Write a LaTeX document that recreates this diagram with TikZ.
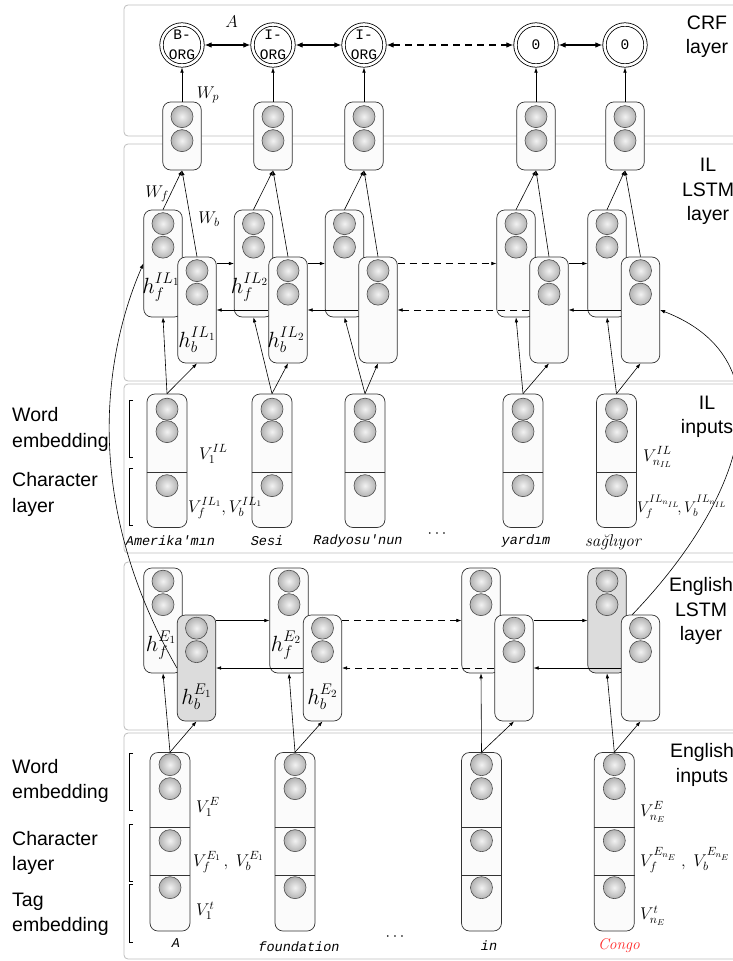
\RequirePackage{fix-cm}
\documentclass[tikz,border=0pt]{standalone}
\usepackage{fontspec}
\setsansfont{Liberation Sans}
\newfontfamily\monofam{Liberation Mono}
\usetikzlibrary{arrows.meta,calc,positioning}
\definecolor{rim}{HTML}{BEBEBE}
\definecolor{cellbg}{HTML}{FBFBFB}
\definecolor{hotbg}{HTML}{DCDCDC}
\definecolor{congo}{HTML}{FF2B2B}
\pgfdeclarelayer{back}
\pgfdeclarelayer{links}
\pgfsetlayers{back,links,main}
\tikzset{
  panel/.style={draw=rim,fill=white,rounded corners=4pt,line width=0.8pt},
  cell/.style={draw=black!80,fill=cellbg,rounded corners=8pt,minimum width=38.5pt,inner sep=0pt,line width=0.7pt},
  hot/.style={fill=hotbg},
  plain/.style={},
  ball/.style={circle,draw=black!70,inner color=black!5,outer color=black!30,minimum size=22pt,inner sep=0pt,line width=0.6pt},
  tag/.style={circle,draw,fill=white,double=white,double distance=2.6pt,line width=0.8pt,minimum size=41pt,inner sep=0pt,outer sep=2.1pt,align=center,font=\fontsize{14.5}{20}\selectfont\monofam},
  layername/.style={align=center,inner sep=0pt,font=\fontsize{19.5}{24.5}\selectfont\sffamily},
  sidename/.style={anchor=west,align=left,inner sep=0pt,font=\fontsize{19.5}{25.5}\selectfont\sffamily},
  word/.style={inner sep=0pt,font=\fontsize{13.5}{16}\selectfont\monofam\itshape},
  vlab/.style={anchor=west,inner sep=0pt,font=\fontsize{17}{20}\selectfont},
  hlab/.style={inner sep=0pt,font=\fontsize{22}{26}\selectfont},
  wlab/.style={inner sep=0pt,font=\fontsize{17}{20}\selectfont},
  link/.style={-{Latex[length=5pt,width=3.6pt]},line width=0.6pt},
  pair/.style={{Latex[length=7pt,width=5.5pt]}-{Latex[length=7pt,width=5.5pt]},line width=1.1pt},
  broken/.style={dash pattern=on 7pt off 5pt},
}

\begin{document}
\begin{tikzpicture}[x=1pt,y=-1pt]
\useasboundingbox (0,0) rectangle (733,961);
\begin{pgfonlayer}{back}
\foreach \t/\b in {5/136,144/381,384/553,562/730,733/959}
  \draw[panel] (124,\t) rectangle (746,\b);
% forward LSTM cells
\foreach \n/\x in {1/163,2/253.5,3/344.5,4/516,5/607}{
  \node[cell,minimum height=107pt] (If\n) at (\x,263.5) {};
  \node[ball] at ([yshift=-14pt]If\n.north) {};
  \node[ball] at ([yshift=-37.5pt]If\n.north) {};
}
\foreach \n/\x/\s in {1/163/plain,2/289/plain,3/481/plain,4/607/hot}{
  \node[cell,\s,minimum height=105pt] (Ef\n) at (\x,620.5) {};
  \node[ball] at ([yshift=-13.5pt]Ef\n.north) {};
  \node[ball] at ([yshift=-37pt]Ef\n.north) {};
}
\node[hlab] at ([xshift=-2pt,yshift=-23.5pt]If1.center) {$h_f^{IL_1}$};
\node[hlab] at ([xshift=-4pt,yshift=-23.5pt]If2.center) {$h_f^{IL_2}$};
\node[hlab] at ([xshift=-2pt,yshift=-24.5pt]Ef1.center) {$h_f^{E_1}$};
\node[hlab] at ([xshift=-3pt,yshift=-24.5pt]Ef2.center) {$h_f^{E_2}$};
\end{pgfonlayer}

% backward LSTM cells
\foreach \n/\x in {1/197,2/288,3/378,4/549,5/640.5}{
  \node[cell,minimum height=106pt] (Ib\n) at (\x,310) {};
  \node[ball] at ([yshift=-14pt]Ib\n.north) {};
  \node[ball] at ([yshift=-37.5pt]Ib\n.north) {};
}
\foreach \n/\x/\s in {1/196.5/hot,2/322.5/plain,3/514/plain,4/640.5/plain}{
  \node[cell,\s,minimum height=106pt] (Eb\n) at (\x,668) {};
  \node[ball] at ([yshift=-13.5pt]Eb\n.north) {};
  \node[ball] at ([yshift=-37pt]Eb\n.north) {};
}
\node[hlab] at ([yshift=-30pt]Ib1.center) {$h_b^{IL_1}$};
\node[hlab] at ([xshift=-2pt,yshift=-30pt]Ib2.center) {$h_b^{IL_2}$};
\node[hlab] at ([yshift=-29pt]Eb1.center) {$h_b^{E_1}$};
\node[hlab] at ([yshift=-29pt]Eb2.center) {$h_b^{E_2}$};

% output cells and CRF tags
\foreach \n/\x/\t in {1/182/B-\\ORG,2/273/I-\\ORG,3/364/I-\\ORG,4/536/0,5/625/0}{
  \node[cell,minimum height=68pt] (o\n) at (\x,136) {};
  \node[ball] at ([yshift=-15pt]o\n.north) {};
  \node[ball] at ([yshift=-39pt]o\n.north) {};
  \node[tag] (c\n) at (\x,45) {\t};
  \draw[link] (o\n.north) -- (c\n.south);
}
\draw[pair] (c1) -- (c2);
\draw[pair] (c2) -- (c3);
\draw[pair,broken] (c3) -- (c4);
\draw[pair] (c4) -- (c5);

% IL inputs
\foreach \n/\x in {1/167,2/272,3/365,4/523,5/616.5}{
  \node[cell,minimum width=40pt,minimum height=133.5pt] (Ii\n) at (\x,460.75) {};
  \draw[black!80] ([yshift=-79pt]Ii\n.north west) -- ([yshift=-79pt]Ii\n.north east);
  \node[ball] at ([yshift=-15.5pt]Ii\n.north) {};
  \node[ball] at ([yshift=-38pt]Ii\n.north) {};
  \node[ball] at ([yshift=-92pt]Ii\n.north) {};
}
% English inputs
\foreach \n/\x in {1/170,2/295,3/481.5,4/614.3}{
  \node[cell,minimum width=40pt,minimum height=178.5pt] (Ei\n) at (\x,841.75) {};
  \draw[black!80] ([yshift=-75.5pt]Ei\n.north west) -- ([yshift=-75.5pt]Ei\n.north east);
  \draw[black!80] ([yshift=-123.5pt]Ei\n.north west) -- ([yshift=-123.5pt]Ei\n.north east);
  \node[ball] at ([yshift=-12.5pt]Ei\n.north) {};
  \node[ball] at ([yshift=-36.5pt]Ei\n.north) {};
  \node[ball] at ([yshift=-88.5pt]Ei\n.north) {};
  \node[ball] at ([yshift=-135.5pt]Ei\n.north) {};
}

% links between the two LSTMs
\begin{pgfonlayer}{links}
\draw[link] (Eb1.west) .. controls (75,490) and (110,340) .. (If1.west);
\draw[link] (Ef4.east) .. controls (745,500) and (790,360) .. (Ib5.east);
\end{pgfonlayer}

% recurrent connections
\foreach \a/\b/\s in {1/2/solid,2/3/solid,3/4/broken,4/5/solid}{
  \draw[link,\s] (Ib\a.east |- If\b.west) -- (If\b.west);
  \draw[link,\s] (Ib\b.west) -- (Ib\a.east);
}
\foreach \a/\b/\s in {1/2/solid,2/3/broken,3/4/solid}{
  \draw[link,\s] (Eb\a.east |- Ef\b.west) -- (Ef\b.west);
  \draw[link,\s] (Eb\b.west) -- (Eb\a.east);
}

% vertical connections
\foreach \n in {1,...,5}{
  \draw[link] (If\n.north) -- (o\n.south);
  \draw[link] (Ib\n.north) -- (o\n.south);
  \draw[link] (Ii\n.north) -- (If\n.south);
  \draw[link] (Ii\n.north) -- (Ib\n.south);
}
\foreach \n in {1,...,4}{
  \draw[link] (Ei\n.north) -- (Ef\n.south);
  \draw[link] (Ei\n.north) -- (Eb\n.south);
}

% weights
\node[wlab] (wa) at (231.5,22) {$A$};
\node[wlab] (wp) at (208,95) {$W_p$};
\node[wlab] (wf) at (157,194) {$W_f$};
\node[wlab] (wb) at (209,219) {$W_b$};

% vector labels
\node[vlab] (v1) at (199,454) {$V_1^{IL}$};
\node[vlab] (v2) at (188,508) {$V_f^{IL_1},V_b^{IL_1}$};
\node[vlab] (v3) at (643,457) {$V_{n_{IL}}^{IL}$};
\node[vlab,font=\fontsize{15.5}{18}\selectfont] (v4) at (637,507) {$V_f^{IL_{n_{IL}}}\!,V_b^{IL_{n_{IL}}}$};
\node[vlab] (v5) at (196,807) {$V_1^E$};
\node[vlab] (v6) at (193,862) {$V_f^{E_1}\,,\;V_b^{E_1}$};
\node[vlab] (v7) at (196,911) {$V_1^t$};
\node[vlab] (v8) at (640,812) {$V_{n_E}^E$};
\node[vlab] (v9) at (640,860) {$V_f^{E_{n_E}}\;,\;V_b^{E_{n_E}}$};
\node[vlab] (v10) at (640,916) {$V_{n_E}^t$};

% brackets
\foreach \t/\b in {400/457,468/525,753/810,824/881,884/942}
  \draw[line width=0.6pt] (133,\t) -- (129,\t) -- (129,\b) -- (133,\b);

% words
\node[word] (il1) at (170.5,541) {Amerika'mın};
\node[word] (il2) at (267,541) {Sesi};
\node[word] (il3) at (358,541) {Radyosu'nun};
\node[inner sep=0pt,font=\fontsize{16}{18}\selectfont] (ildots) at (437,534) {$\cdots$};
\node[word] (il4) at (526,541) {yardım};
\node[inner sep=0pt,font=\fontsize{17}{20}\selectfont\itshape] (il5) at (613,542) {sağlıyor};
\node[word] (en1) at (176,943) {A};
\node[word] (en2) at (299,947) {foundation};
\node[inner sep=0pt,font=\fontsize{16}{18}\selectfont] (endots) at (395,937) {$\cdots$};
\node[word] (en3) at (489,946) {in};
\node[inner sep=0pt,text=congo,font=\fontsize{15.5}{18}\selectfont\itshape] (en4) at (619,946) {Congo};

% layer names
\node[layername] (crf) at (707,36.5) {CRF\\layer};
\node[layername] (illstm) at (708,191.5) {IL\\LSTM\\layer};
\node[layername] (ilin) at (707,417) {IL\\inputs};
\node[layername] (enlstm) at (701,611) {English\\LSTM\\layer};
\node[layername] (enin) at (702,765) {English\\inputs};
\node[sidename] (s1) at (12,429.5) {Word\\embedding};
\node[sidename] (s2) at (12,494.5) {Character\\layer};
\node[sidename] (s3) at (12,781) {Word\\embedding};
\node[sidename] (s4) at (12,853) {Character\\layer};
\node[sidename] (s5) at (12,914.5) {Tag\\embedding};
\end{tikzpicture}
\end{document}
